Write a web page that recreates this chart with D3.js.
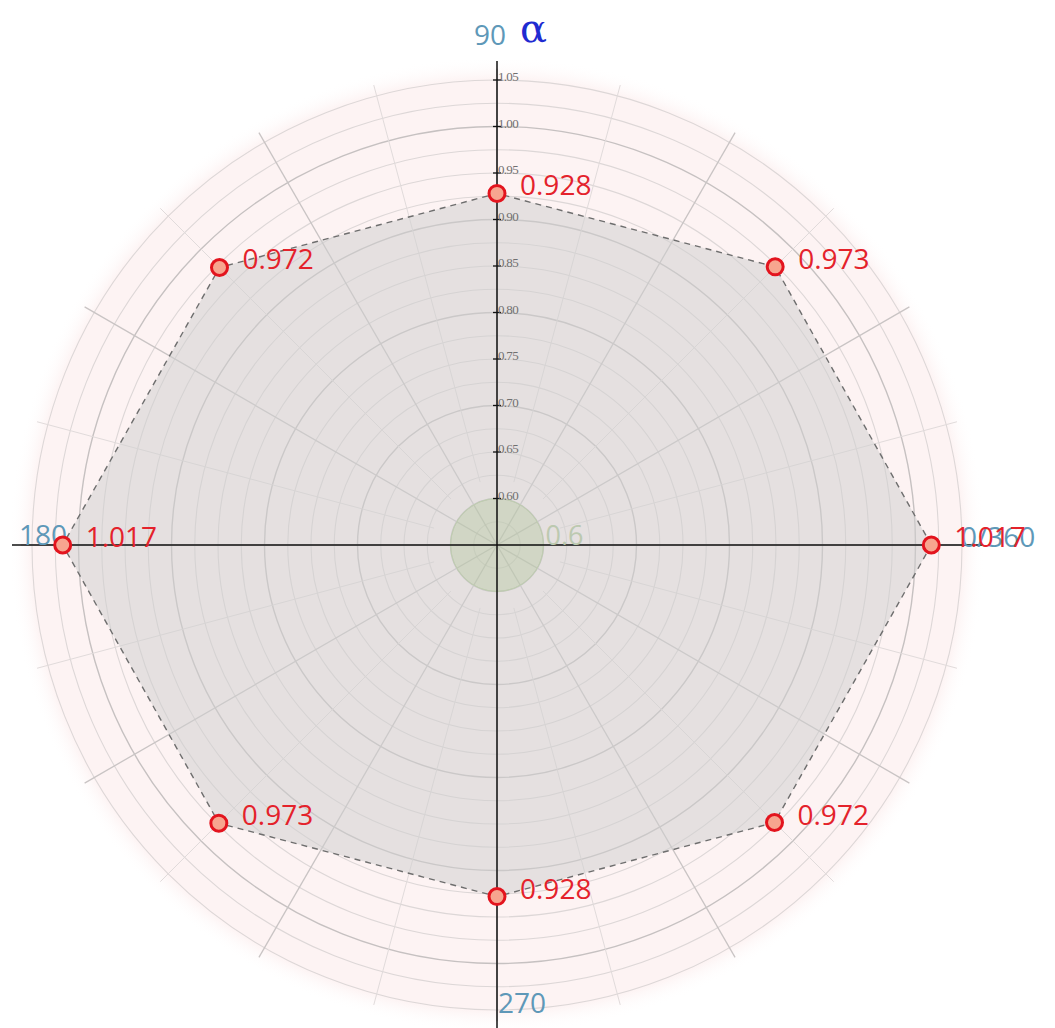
<!DOCTYPE html>
<html>
<head>
<meta charset="utf-8">
<script src="https://cdn.jsdelivr.net/npm/d3@7"></script>
<style>
  html, body { margin: 0; padding: 0; background: #ffffff; }
  svg { display: block; }
</style>
</head>
<body>
<svg id="chart" width="1055" height="1028"></svg>
<script>
// Measured α values around the polar plot (degrees → value)
const angles = [0, 45, 90, 135, 180, 225, 270, 315];
const values = [1.017, 0.973, 0.928, 0.972, 1.017, 0.973, 0.928, 0.972];

// Radial axis ticks and ring values
const radialTicks = [0.60, 0.65, 0.70, 0.75, 0.80, 0.85, 0.90, 0.95, 1.00, 1.05];
const ringValues = d3.range(0, 20).map(i => +(0.575 + i * 0.025).toFixed(3));
const spokeAngles = d3.range(0, 360, 15);

// Direction labels on the axes
const axisAngles = [0, 90, 180, 270];
const axisLabels = ["0/360", "90", "180", "270"];

const referenceValue = 0.6;
const axisTitle = "α";

const cx = 497, cy = 545;
const r = d3.scaleLinear().domain([0.55, 1.05]).range([0, 465]);
const rad = d => d * Math.PI / 180;
const px = (a, v) => cx + r(v) * Math.cos(rad(a));
const py = (a, v) => cy - r(v) * Math.sin(rad(a));
const isDecile = d => Math.abs(d * 10 - Math.round(d * 10)) < 1e-6;

const svg = d3.select("#chart");
const defs = svg.append("defs");

// soft pink disk behind the grid
const grad = defs.append("radialGradient").attr("id", "disk")
  .attr("gradientUnits", "userSpaceOnUse")
  .attr("cx", cx).attr("cy", cy).attr("r", r(1.075));
grad.append("stop").attr("offset", 0).attr("stop-color", "#fdf3f3");
grad.append("stop").attr("offset", r(1.05) / r(1.075)).attr("stop-color", "#fdf3f3");
grad.append("stop").attr("offset", 1).attr("stop-color", "#ffffff").attr("stop-opacity", 0);

svg.append("circle").attr("cx", cx).attr("cy", cy).attr("r", r(1.075))
  .attr("fill", "url(#disk)");

// concentric rings
const grid = svg.append("g");
grid.selectAll("circle.ring").data(ringValues).join("circle")
  .attr("class", "ring")
  .attr("cx", cx).attr("cy", cy)
  .attr("r", d => r(d))
  .attr("fill", "none")
  .attr("stroke", d => isDecile(d) ? "#c6c1c1" : "#ddd7d7")
  .attr("stroke-width", d => isDecile(d) ? 1.4 : 1.1);

// spokes: every 30° full length, 15° in between lighter
grid.selectAll("line.spoke").data(spokeAngles).join("line")
  .attr("class", "spoke")
  .attr("x1", a => px(a, a % 30 === 0 ? 0.55 : 0.62))
  .attr("y1", a => py(a, a % 30 === 0 ? 0.55 : 0.62))
  .attr("x2", a => px(a, 1.062))
  .attr("y2", a => py(a, 1.062))
  .attr("stroke", a => a % 30 === 0 ? "#c9c4c4" : "#e1dbdb")
  .attr("stroke-width", a => a % 30 === 0 ? 1.3 : 1);

// data polygon
const pts = angles.map((a, i) => [px(a, values[i]), py(a, values[i])]);
svg.append("path")
  .attr("d", d3.line().curve(d3.curveLinearClosed)(pts))
  .attr("fill", "#d0d0d0")
  .attr("fill-opacity", 0.52)
  .attr("stroke", "#6e6e6e")
  .attr("stroke-width", 1.4)
  .attr("stroke-dasharray", "6,5");

// reference disk at 0.6
svg.append("circle").attr("cx", cx).attr("cy", cy).attr("r", r(referenceValue))
  .attr("fill", "#a8c08c").attr("fill-opacity", 0.32)
  .attr("stroke", "#bfcdb0").attr("stroke-width", 1);

// axes
const axes = svg.append("g").attr("stroke", "#111").attr("stroke-width", 1.5);
axes.append("line").attr("x1", 12).attr("x2", 982).attr("y1", cy).attr("y2", cy);
axes.append("line").attr("x1", cx).attr("x2", cx).attr("y1", 61).attr("y2", 1028);

// radial tick marks and labels on the vertical axis
const ticks = svg.append("g");
ticks.selectAll("line").data(radialTicks).join("line")
  .attr("x1", cx - 4).attr("x2", cx + 4)
  .attr("y1", d => py(90, d)).attr("y2", d => py(90, d))
  .attr("stroke", "#111").attr("stroke-width", 1.3);
ticks.selectAll("text").data(radialTicks).join("text")
  .attr("x", cx + 1)
  .attr("y", d => py(90, d) + 1)
  .attr("font-family", "Liberation Serif, serif")
  .attr("font-size", 13)
  .attr("letter-spacing", -0.7)
  .attr("fill", "#707070")
  .text(d => d.toFixed(2));

// reference value label
svg.append("text")
  .attr("x", cx + r(referenceValue) + 2)
  .attr("y", cy)
  .attr("font-family", "Open Sans, sans-serif")
  .attr("font-size", 27)
  .attr("fill", "#bcc9b0")
  .text(String(referenceValue));

// direction labels
const dirPos = {
  0:   { x: 961, y: 547, anchor: "start" },
  90:  { x: 506, y: 45, anchor: "end" },
  180: { x: 19, y: 545, anchor: "start" },
  270: { x: 498, y: 1013, anchor: "start" }
};
svg.append("g").selectAll("text").data(axisAngles).join("text")
  .attr("x", a => dirPos[a].x)
  .attr("y", a => dirPos[a].y)
  .attr("text-anchor", a => dirPos[a].anchor)
  .attr("font-family", "Open Sans, sans-serif")
  .attr("font-size", 28)
  .attr("fill", "#5e98b8")
  .text((a, i) => axisLabels[i]);

svg.append("text")
  .attr("x", 520).attr("y", 42)
  .attr("font-family", "DejaVu Serif, serif")
  .attr("font-size", 40)
  .attr("fill", "#1f2bd1")
  .text(axisTitle);

// data points and value labels
const marks = svg.append("g");
marks.selectAll("circle").data(angles).join("circle")
  .attr("cx", (a, i) => px(a, values[i]))
  .attr("cy", (a, i) => py(a, values[i]))
  .attr("r", 8)
  .attr("fill", "#f7a58f")
  .attr("stroke", "#e3141e")
  .attr("stroke-width", 3);
marks.selectAll("text").data(angles).join("text")
  .attr("x", (a, i) => px(a, values[i]) + 23)
  .attr("y", (a, i) => py(a, values[i]) + 2)
  .attr("font-family", "Open Sans, sans-serif")
  .attr("font-size", 28)
  .attr("fill", "#e4222b")
  .text((a, i) => values[i].toFixed(3));
</script>
</body>
</html>
